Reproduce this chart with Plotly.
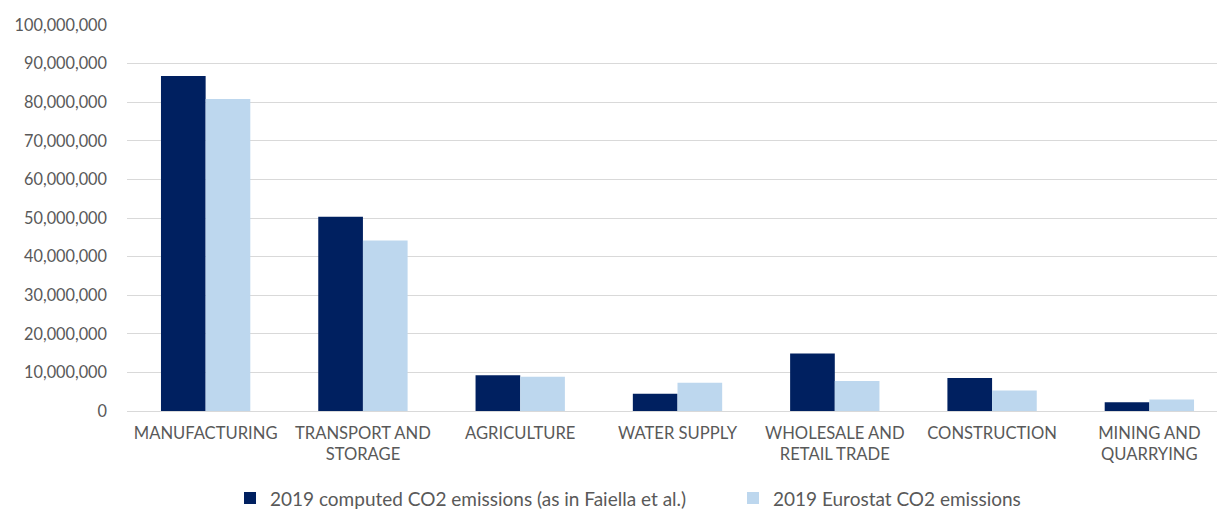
import plotly.graph_objects as go

categories = [
    "MANUFACTURING",
    "TRANSPORT AND<br>STORAGE",
    "AGRICULTURE",
    "WATER SUPPLY",
    "WHOLESALE AND<br>RETAIL TRADE",
    "CONSTRUCTION",
    "MINING AND<br>QUARRYING",
]
computed_2019 = [86_800_000, 50_300_000, 9_250_000, 4_500_000, 14_900_000, 8_550_000, 2_250_000]
eurostat_2019 = [80_800_000, 44_200_000, 8_900_000, 7_350_000, 7_800_000, 5_300_000, 2_950_000]
y_ticks = list(range(0, 100_000_001, 10_000_000))

FONT = "Lato, Carlito, Calibri, sans-serif"
GREY = "#595959"

fig = go.Figure()
fig.add_trace(go.Bar(
    x=categories, y=computed_2019,
    name="2019 computed CO2 emissions (as in Faiella et al.)",
    marker=dict(color="#002060", line=dict(width=0)),
))
fig.add_trace(go.Bar(
    x=categories, y=eurostat_2019,
    name="2019 Eurostat CO2 emissions",
    marker=dict(color="#BDD7EE", line=dict(width=0)),
))

fig.update_layout(
    width=1217, height=510,
    margin=dict(l=127, r=0, t=25, b=99, pad=0, autoexpand=False),
    paper_bgcolor="white", plot_bgcolor="white",
    barmode="group", bargap=0.432, bargroupgap=0,
    font=dict(family=FONT, size=16, color=GREY),
    legend=dict(
        orientation="h", x=0.0945, xref="paper", xanchor="left",
        y=-0.226, yanchor="middle",
        font=dict(family=FONT, size=19, color=GREY),
        itemwidth=30, entrywidth=458, entrywidthmode="pixels",
        traceorder="normal", bgcolor="rgba(0,0,0,0)",
    ),
    showlegend=True,
)
fig.update_xaxes(
    range=[-0.5, 6.43], showgrid=False, zeroline=False, showline=False,
    ticks="", automargin=False, ticklabelstandoff=10,
    tickfont=dict(family=FONT, size=16.6, color=GREY),
)
fig.update_yaxes(
    range=[0, 100_000_000], tickvals=y_ticks, tickformat=",d",
    showgrid=True, gridcolor="#D9D9D9", gridwidth=1.3,
    zeroline=True, zerolinecolor="#D9D9D9", zerolinewidth=1.3,
    showline=False, ticks="", automargin=False, ticklabelstandoff=19,
    tickfont=dict(family=FONT, size=16.3, color=GREY),
)

fig.write_html("out.html")
